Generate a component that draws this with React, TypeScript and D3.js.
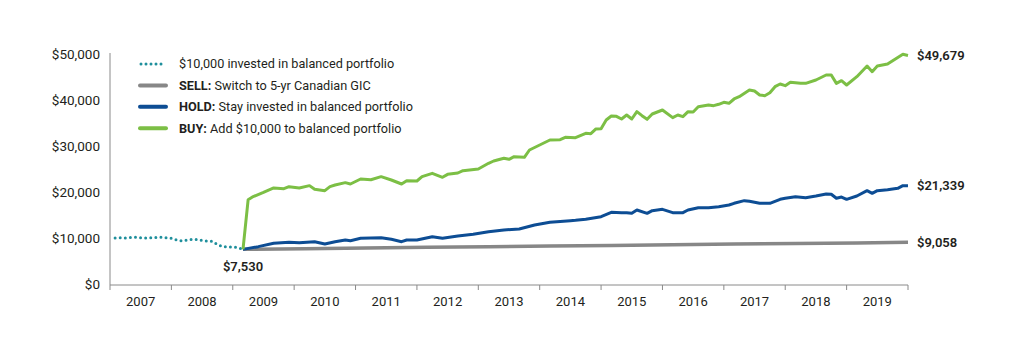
import React from "react";
import * as d3 from "d3";

const yearLabels = ["2007","2008","2009","2010","2011","2012","2013","2014","2015","2016","2017","2018","2019"];
const yTicks = [0, 10000, 20000, 30000, 40000, 50000];

const initialSeries: [string, number][] = [
  ["2007-01",10000],["2007-02",10050],["2007-03",10000],["2007-04",10100],["2007-05",10150],["2007-06",10050],
  ["2007-07",10000],["2007-08",10050],["2007-09",10100],["2007-10",10150],["2007-11",10050],["2007-12",9950],
  ["2008-01",9600],["2008-02",9400],["2008-03",9550],["2008-04",9700],["2008-05",9650],["2008-06",9450],
  ["2008-07",9350],["2008-08",9300],["2008-09",8600],["2008-10",8150],["2008-11",8100],["2008-12",8000],
  ["2009-01",7950],["2009-02",7530],
];

const sellSeries: [string, number][] = [
  ["2009-02",7530],["2010-02",7680],["2011-02",7830],["2012-02",7970],["2013-02",8110],["2014-02",8250],
  ["2015-02",8390],["2016-02",8530],["2017-02",8670],["2018-02",8800],["2019-02",8930],["2019-12",9058],
];

const holdSeries: [string, number][] = [
  ["2009-02",7530],["2009-05",8120],["2009-08",8850],["2009-11",9060],["2010-01",8980],["2010-04",9200],
  ["2010-06",8700],["2010-08",9200],["2010-10",9570],["2010-11",9420],["2011-01",9930],["2011-05",10070],
  ["2011-07",9710],["2011-09",9200],["2011-10",9570],["2011-12",9570],["2012-03",10290],["2012-05",9930],
  ["2012-08",10430],["2012-11",10800],["2013-02",11370],["2013-05",11740],["2013-08",11960],["2013-11",12830],
  ["2014-02",13410],["2014-06",13770],["2014-07",13840],["2014-09",14060],["2014-12",14640],["2015-02",15580],
  ["2015-04",15510],["2015-05",15510],["2015-06",15360],["2015-07",16090],["2015-09",15360],["2015-10",15940],
  ["2015-12",16230],["2016-02",15510],["2016-04",15510],["2016-05",16090],["2016-07",16590],["2016-09",16590],
  ["2016-11",16810],["2017-01",17170],["2017-02",17540],["2017-04",18120],["2017-05",17980],["2017-07",17540],
  ["2017-09",17540],["2017-11",18410],["2017-12",18630],["2018-02",18990],["2018-04",18770],["2018-06",19130],
  ["2018-08",19570],["2018-09",19500],["2018-10",18630],["2018-11",18910],["2018-12",18410],["2019-02",19130],
  ["2019-04",20290],["2019-05",19710],["2019-06",20290],["2019-08",20500],["2019-10",20800],["2019-11",21370],
  ["2019-12",21339],
];

const buySeries: [string, number][] = [
  ["2009-02",7530],["2009-03",18300],["2009-04",19000],["2009-06",19900],["2009-08",20870],["2009-10",20720],
  ["2009-11",21160],["2010-01",20870],["2010-03",21380],["2010-04",20580],["2010-06",20290],["2010-07",21160],
  ["2010-08",21520],["2010-10",22030],["2010-11",21740],["2011-01",22830],["2011-03",22670],["2011-05",23330],
  ["2011-07",22610],["2011-09",21740],["2011-10",22460],["2011-12",22390],["2012-01",23330],["2012-03",24060],
  ["2012-05",23190],["2012-06",23840],["2012-08",24130],["2012-09",24640],["2012-12",25000],["2013-02",26240],
  ["2013-03",26740],["2013-05",27330],["2013-06",27110],["2013-07",27680],["2013-09",27540],["2013-10",29130],
  ["2013-12",30220],["2014-02",31300],["2014-04",31370],["2014-05",31890],["2014-07",31800],["2014-09",32750],
  ["2014-10",32680],["2014-11",33700],["2014-12",33770],["2015-01",35650],["2015-02",36520],["2015-03",36450],
  ["2015-04",35870],["2015-05",36740],["2015-06",35870],["2015-07",37460],["2015-08",36590],["2015-09",35800],
  ["2015-10",36960],["2015-12",37830],["2016-02",36160],["2016-03",36740],["2016-04",36380],["2016-05",37460],
  ["2016-06",37390],["2016-07",38550],["2016-09",38910],["2016-10",38770],["2016-11",39060],["2016-12",39490],
  ["2017-01",39280],["2017-02",40220],["2017-03",40720],["2017-05",42170],["2017-06",41960],["2017-07",41090],
  ["2017-08",40940],["2017-09",41590],["2017-10",42900],["2017-11",43480],["2017-12",43110],["2018-01",43840],
  ["2018-03",43620],["2018-04",43620],["2018-06",44350],["2018-08",45430],["2018-09",45430],["2018-10",43620],
  ["2018-11",44200],["2018-12",43260],["2019-02",45070],["2019-04",47390],["2019-05",46160],["2019-06",47390],
  ["2019-08",47830],["2019-09",48550],["2019-11",49930],["2019-12",49679],
];

const legendItems = [
  { bold: "", text: "$10,000 invested in balanced portfolio", color: "#1f8f9c", dotted: true },
  { bold: "SELL:", text: " Switch to 5-yr Canadian GIC", color: "#878787", dotted: false },
  { bold: "HOLD:", text: " Stay invested in balanced portfolio", color: "#0d4d94", dotted: false },
  { bold: "BUY:", text: " Add $10,000 to balanced portfolio", color: "#7cbf45", dotted: false },
];

const monthIndex = (s: string) => {
  const [y, m] = s.split("-").map(Number);
  return (y - 2007) * 12 + m;
};

const fmt = (v: number) => "$" + d3.format(",")(v);

export default function App() {
  const W = 1018, H = 346;
  const x = d3.scaleLinear().domain([0, 156]).range([110, 908]);
  const y = d3.scaleLinear().domain([0, 50000]).range([284, 54]);
  const line = d3.line<[string, number]>().x(d => x(monthIndex(d[0]))).y(d => y(d[1]));
  const font = "Roboto, 'Liberation Sans', Arial, sans-serif";
  const textColor = "#231f20";
  const yearTicks = d3.range(0, 157, 12);
  const last = (s: [string, number][]) => s[s.length - 1];
  return (
    <svg width={W} height={H} style={{ position: "absolute", left: 0, top: 0, background: "#fff" }} fontFamily={font}>
      {/* axes */}
      <line x1={110} x2={110} y1={53} y2={285} stroke="#8a8a8a" strokeWidth={1} />
      <line x1={110} x2={908} y1={285} y2={285} stroke="#8a8a8a" strokeWidth={1} />
      {yearTicks.map(m => (
        <line key={m} x1={x(m)} x2={x(m)} y1={285} y2={290} stroke="#8a8a8a" strokeWidth={1} />
      ))}
      {yTicks.map(v => (
        <text key={v} x={100} y={y(v)} dy="0.35em" textAnchor="end" fontSize={13.5} fill={textColor}>{fmt(v)}</text>
      ))}
      {yearLabels.map((lab, i) => (
        <text key={lab} x={x(i * 12 + 6)} y={301} dy="0.35em" textAnchor="middle" fontSize={13} fill={textColor}>{lab}</text>
      ))}
      {/* series */}
      <path d={line(sellSeries) || ""} fill="none" stroke="#878787" strokeWidth={3.5} />
      <path d={line(holdSeries) || ""} fill="none" stroke="#0d4d94" strokeWidth={3} strokeLinejoin="round" />
      <path d={line(buySeries) || ""} fill="none" stroke="#7cbf45" strokeWidth={3} strokeLinejoin="round" />
      <path d={line(initialSeries) || ""} fill="none" stroke="#1f8f9c" strokeWidth={3} strokeLinecap="round" strokeDasharray="0 5.1" />
      {/* end labels */}
      <text x={917} y={y(last(buySeries)[1])} dy="0.35em" fontSize={13} fontWeight={600} fill={textColor}>{fmt(last(buySeries)[1])}</text>
      <text x={917} y={y(last(holdSeries)[1])} dy="0.35em" fontSize={13} fontWeight={600} fill={textColor}>{fmt(last(holdSeries)[1])}</text>
      <text x={917} y={y(last(sellSeries)[1])} dy="0.35em" fontSize={13} fontWeight={600} fill={textColor}>{fmt(last(sellSeries)[1])}</text>
      <text x={x(monthIndex(sellSeries[0][0]))} y={266} dy="0.35em" textAnchor="middle" fontSize={13} fontWeight={600} fill={textColor}>{fmt(sellSeries[0][1])}</text>
      {/* legend */}
      {legendItems.map((it, i) => {
        const ly = 64 + i * 21.4;
        return (
          <g key={i}>
            {it.dotted ? (
              <line x1={141} x2={166} y1={ly} y2={ly} stroke={it.color} strokeWidth={3} strokeLinecap="round" strokeDasharray="0 5" />
            ) : (
              <line x1={140} x2={166} y1={ly} y2={ly} stroke={it.color} strokeWidth={4} strokeLinecap="round" />
            )}
            <text x={179} y={ly} dy="0.35em" fontSize={12.7} fill={textColor}>
              {it.bold ? <tspan fontWeight="bold">{it.bold}</tspan> : null}
              {it.text}
            </text>
          </g>
        );
      })}
    </svg>
  );
}
